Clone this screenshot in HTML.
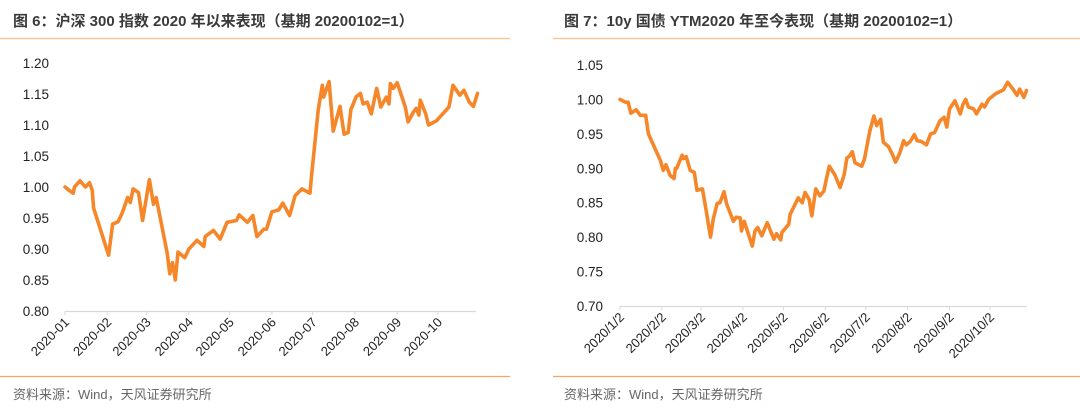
<!DOCTYPE html>
<html><head><meta charset="utf-8"><style>
body{margin:0;background:#fff;width:1080px;height:414px;overflow:hidden;font-family:"Liberation Sans","Noto Sans CJK SC",sans-serif}
svg{position:absolute;left:0;top:0}
</style></head><body>
<svg width="1080" height="414">
<g id="left"></g>
<g id="right"></g>
</svg>
<script>
const leftDays=[0,4,6,7,11,15,18,20,21,32,35,39,42,46,48,50,54,57,62,65,67,75,77,79,81,83,88,91,97,102,103,109,114,119,126,128,134,138,141,146,148,152,157,160,165,169,174,180,181,186,189,190,194,197,202,205,208,210,214,217,219,222,225,229,232,236,238,239,241,244,250,252,256,258,260,261,263,265,267,273,282,285,290,293,297,300,303];
const leftValues=[1.00,0.993,0.99,1.0,1.01,1.0,1.007,0.995,0.966,0.89,0.94,0.944,0.958,0.983,0.975,0.997,0.991,0.946,1.012,0.972,0.983,0.894,0.86,0.878,0.85,0.895,0.886,0.90,0.914,0.904,0.92,0.93,0.916,0.943,0.946,0.955,0.943,0.954,0.92,0.932,0.932,0.96,0.963,0.974,0.954,0.986,0.997,0.99,1.016,1.124,1.164,1.145,1.17,1.09,1.13,1.085,1.088,1.125,1.146,1.151,1.134,1.137,1.118,1.159,1.129,1.145,1.134,1.167,1.159,1.168,1.129,1.105,1.121,1.127,1.116,1.14,1.129,1.118,1.10,1.107,1.129,1.164,1.148,1.156,1.137,1.13,1.151];
const leftYTicks=[0.80,0.85,0.90,0.95,1.00,1.05,1.10,1.15,1.20];
const leftXLabels=["2020-01","2020-02","2020-03","2020-04","2020-05","2020-06","2020-07","2020-08","2020-09","2020-10"];
const rightDays=[0,4,6,8,12,15,19,21,30,32,34,37,40,41,42,46,47,49,52,55,57,61,63,67,69,72,74,77,79,82,84,86,89,90,92,98,100,102,105,109,114,116,119,120,125,126,132,135,137,140,142,145,148,151,153,155,159,163,166,168,170,172,174,179,181,185,188,190,193,195,199,202,204,207,210,212,215,218,220,223,227,230,233,237,240,242,244,248,252,254,256,258,262,264,268,270,273,278,284,287,291,294,296,299,301];
const rightValues=[1.00,0.996,0.996,0.98,0.985,0.977,0.977,0.95,0.911,0.897,0.905,0.89,0.885,0.90,0.90,0.919,0.914,0.917,0.897,0.894,0.868,0.87,0.848,0.80,0.826,0.849,0.85,0.866,0.848,0.833,0.823,0.829,0.828,0.809,0.823,0.787,0.809,0.814,0.802,0.821,0.797,0.805,0.796,0.807,0.819,0.833,0.857,0.85,0.865,0.855,0.831,0.87,0.86,0.867,0.886,0.903,0.891,0.872,0.891,0.915,0.918,0.924,0.908,0.903,0.913,0.954,0.976,0.962,0.971,0.938,0.931,0.919,0.909,0.921,0.94,0.934,0.939,0.949,0.94,0.939,0.934,0.95,0.952,0.969,0.974,0.96,0.986,0.998,0.979,0.993,1.0,0.989,0.986,0.979,0.993,0.989,1.0,1.008,1.014,1.025,1.015,1.006,1.015,1.003,1.013];
const rightYTicks=[0.70,0.75,0.80,0.85,0.90,0.95,1.00,1.05];
const rightXLabels=["2020/1/2","2020/2/2","2020/3/2","2020/3/2".replace("3","4"),"2020/5/2","2020/6/2","2020/7/2","2020/8/2","2020/9/2","2020/10/2"];
const monthDays=[0,31,60,91,121,152,182,213,244,274];
const NS="http://www.w3.org/2000/svg";
function mk(p,t,a){const e=document.createElementNS(NS,t);for(const k in a)e.setAttribute(k,a[k]);p.appendChild(e);return e;}
function panel(g,o){
  const x=d=>o.x0+d*(o.x274-o.x0)/274;
  const y=v=>o.yBot+(v-o.vMin)*(o.yTop-o.yBot)/(o.vMax-o.vMin);
  let t=mk(g,'text',{x:o.titleX,y:26,'font-size':15,'font-weight':'bold',fill:'#3a3a3a'});t.textContent=o.title;
  
  
  let l=mk(g,'line',{x1:o.lineX1,x2:o.lineX2,y1:38.5,y2:38.5,stroke:'#fbc79c','stroke-width':1.5});
  
  
  l=mk(g,'line',{x1:o.lineX1,x2:o.lineX2,y1:376.5,y2:376.5,stroke:'#f7a567','stroke-width':1.2});
  
  
  t=mk(g,'text',{x:o.titleX,y:399,'font-size':13,fill:'#666'});t.textContent='资料来源：Wind，天风证券研究所';
  
  
  const ax=mk(g,'line',{x1:o.x0,x2:o.xEnd,y1:o.yBot+0.5,y2:o.yBot+0.5,stroke:'#d9d9d9','stroke-width':1.3});
  
  
  o.yt.forEach(v=>{const e=mk(g,'text',{x:o.yLabX,y:y(v)+5,'font-size':13.5,fill:'#222','text-anchor':'end'});e.textContent=v.toFixed(2);
    
    });
  monthDays.forEach((d,i)=>{const xx=x(d);
    const tk=mk(g,'line',{x1:xx,x2:xx,y1:o.yBot,y2:o.yBot+4,stroke:'#d9d9d9'});
    
    
    const e=mk(g,'text',{x:0,y:0,'font-size':13,fill:'#222','text-anchor':'end',transform:`translate(${xx+5},${o.yBot+12}) rotate(-45)`});e.textContent=o.xl[i];
    
    });
  const n=Math.min(o.days.length,o.vals.length);let d='';
  for(let i=0;i<n;i++)d+=(i?'L':'M')+x(o.days[i]).toFixed(1)+','+y(o.vals[i]).toFixed(1);
  const p=mk(g,'path',{d:d,fill:'none',stroke:'#f5872a','stroke-width':3.6,'stroke-linejoin':'round','stroke-linecap':'round'});
  
  
}
panel(document.getElementById('left'),{title:'图 6：沪深 300 指数 2020 年以来表现（基期 20200102=1）',titleX:13,lineX1:0,lineX2:510,
  x0:65,x274:438,xEnd:476,yBot:311,yTop:63,vMin:0.80,vMax:1.20,yLabX:49,yt:leftYTicks,xl:leftXLabels,days:leftDays,vals:leftValues});
panel(document.getElementById('right'),{title:'图 7：10y 国债 YTM2020 年至今表现（基期 20200102=1）',titleX:564,lineX1:553,lineX2:1080,
  x0:620,x274:990,xEnd:1027,yBot:306,yTop:65,vMin:0.70,vMax:1.05,yLabX:603,yt:rightYTicks,xl:rightXLabels,days:rightDays,vals:rightValues});
</script>
</body></html>
